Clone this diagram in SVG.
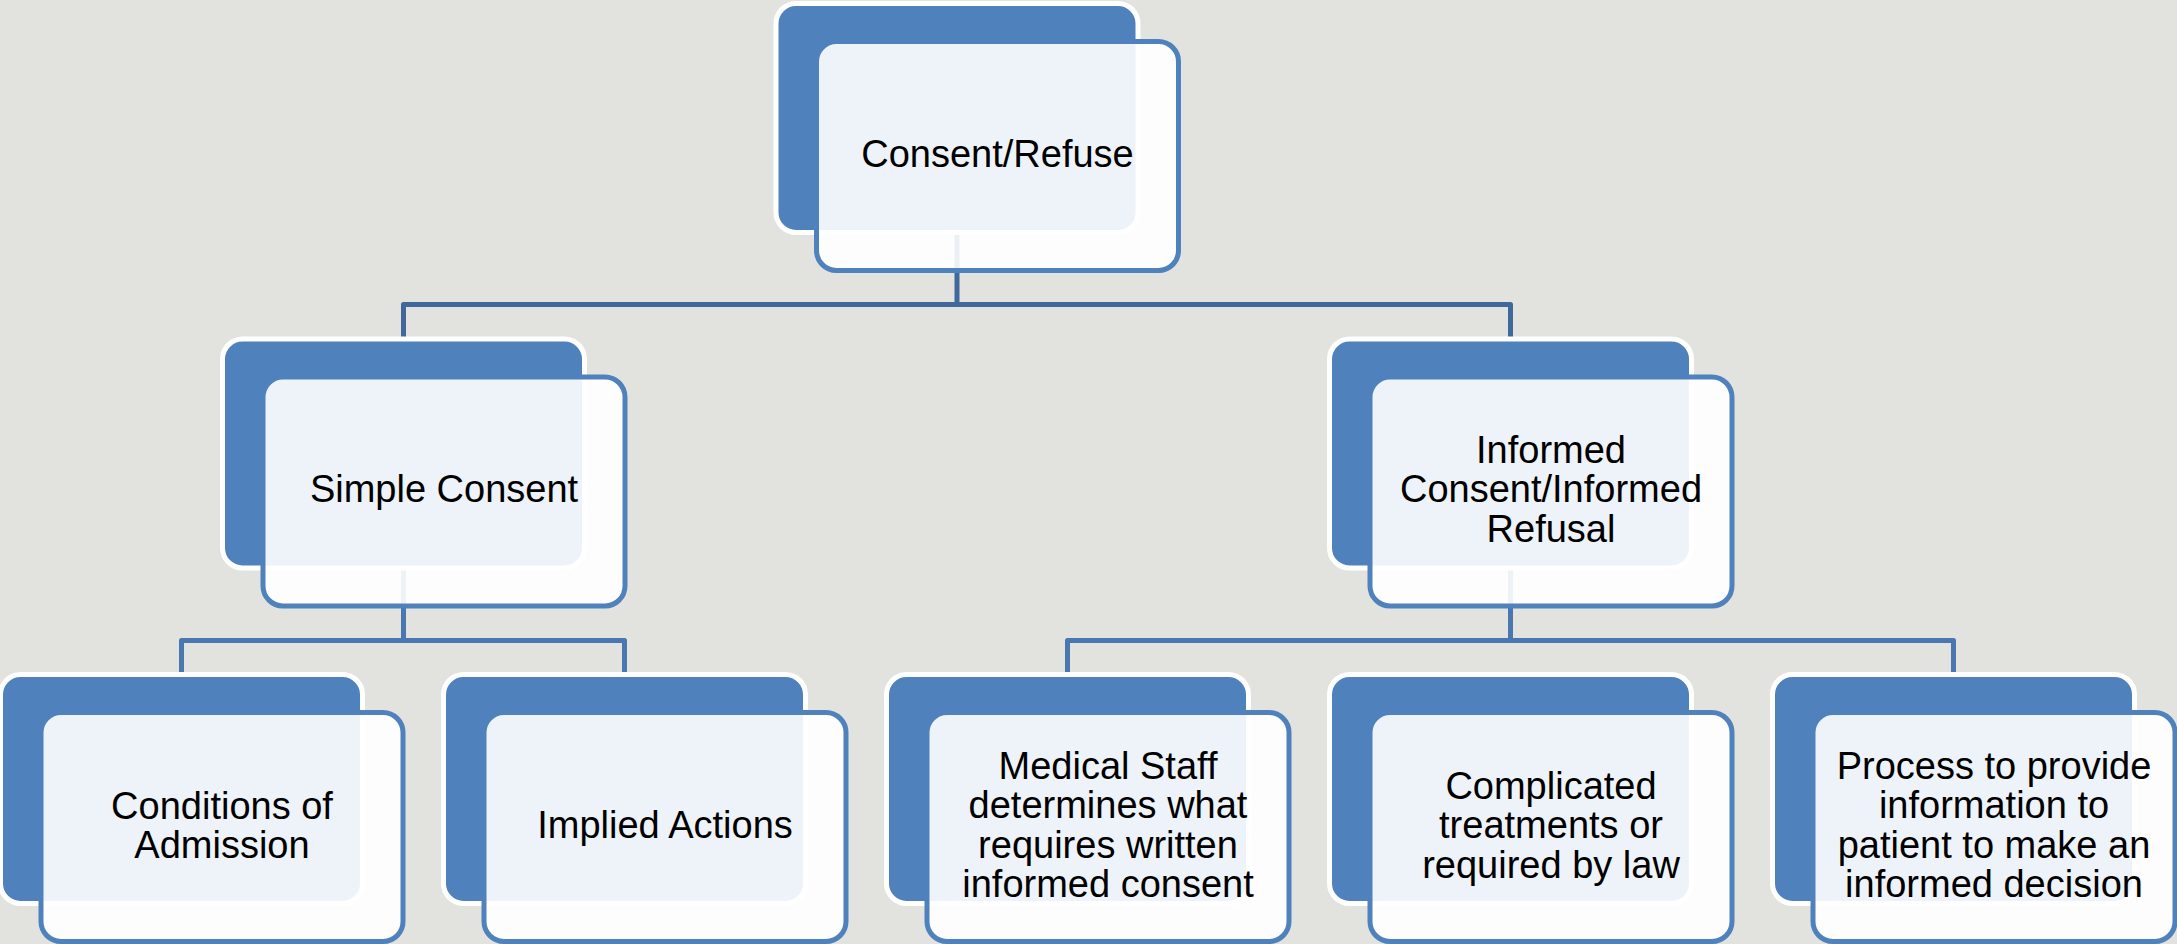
<svg xmlns="http://www.w3.org/2000/svg" width="2177" height="944" viewBox="0 0 2177 944">
<style>
.bg{fill:#E2E3DE}
.back{fill:#4F81BD;stroke:#FFFFFF;stroke-width:5}
.front{fill:#FFFFFF;fill-opacity:0.9;stroke:#4F81BD;stroke-width:5}
.c1{fill:none;stroke:#41689B;stroke-width:5;stroke-linejoin:round}
.c2{fill:none;stroke:#4A77B0;stroke-width:5;stroke-linejoin:round}
text{font-family:"Liberation Sans",Arial,Helvetica,sans-serif;font-size:38px;fill:#000000;text-anchor:middle}
</style>
<rect class="bg" x="0" y="0" width="2177" height="944"/>
<g id="connectors">
<path class="c1" d="M957 233 V304.5 M403.5 339 V304.5 H1510.5 V339"/>
<path class="c2" d="M403.5 568 V640.5 M181.5 674 V640.5 H624.5 V674"/>
<path class="c2" d="M1510.5 568 V640.5 M1067.5 674 V640.5 H1953.5 V674"/>
</g>
<g id="node-consent-refuse">
<rect class="back" x="776" y="3.5" width="362" height="229" rx="20"/>
<rect class="front" x="816.5" y="41.5" width="362" height="229" rx="20"/>
<text x="997.5" y="167">Consent/Refuse</text>
</g>
<g id="node-simple-consent">
<rect class="back" x="222.5" y="339" width="362" height="229" rx="20"/>
<rect class="front" x="263" y="377" width="362" height="229" rx="20"/>
<text x="444" y="502">Simple Consent</text>
</g>
<g id="node-informed">
<rect class="back" x="1329.5" y="339" width="362" height="229" rx="20"/>
<rect class="front" x="1370" y="377" width="362" height="229" rx="20"/>
<text x="1551" y="462.5">Informed</text>
<text x="1551" y="502">Consent/Informed</text>
<text x="1551" y="541.5">Refusal</text>
</g>
<g id="node-conditions">
<rect class="back" x="0.5" y="674.5" width="362" height="229" rx="20"/>
<rect class="front" x="41" y="712.5" width="362" height="229" rx="20"/>
<text x="222" y="818.5">Conditions of</text>
<text x="222" y="858">Admission</text>
</g>
<g id="node-implied">
<rect class="back" x="443.5" y="674.5" width="362" height="229" rx="20"/>
<rect class="front" x="484" y="712.5" width="362" height="229" rx="20"/>
<text x="665" y="838">Implied Actions</text>
</g>
<g id="node-medical-staff">
<rect class="back" x="886.5" y="674.5" width="362" height="229" rx="20"/>
<rect class="front" x="927" y="712.5" width="362" height="229" rx="20"/>
<text x="1108" y="778.75">Medical Staff</text>
<text x="1108" y="818.25">determines what</text>
<text x="1108" y="857.75">requires written</text>
<text x="1108" y="897.25">informed consent</text>
</g>
<g id="node-complicated">
<rect class="back" x="1329.5" y="674.5" width="362" height="229" rx="20"/>
<rect class="front" x="1370" y="712.5" width="362" height="229" rx="20"/>
<text x="1551" y="798.5">Complicated</text>
<text x="1551" y="838">treatments or</text>
<text x="1551" y="877.5">required by law</text>
</g>
<g id="node-process">
<rect class="back" x="1772.5" y="674.5" width="362" height="229" rx="20"/>
<rect class="front" x="1813" y="712.5" width="362" height="229" rx="20"/>
<text x="1994" y="778.75">Process to provide</text>
<text x="1994" y="818.25">information to</text>
<text x="1994" y="857.75">patient to make an</text>
<text x="1994" y="897.25">informed decision</text>
</g>
</svg>
